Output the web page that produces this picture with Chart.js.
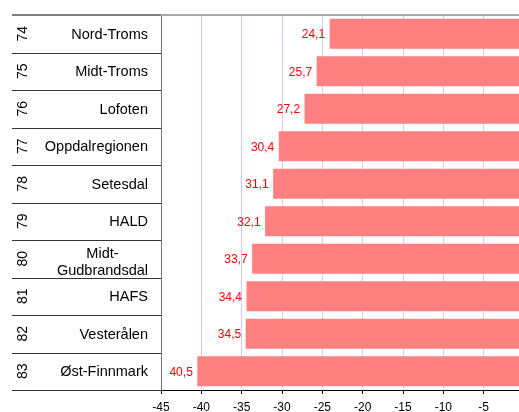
<!DOCTYPE html>
<html>
<head>
<meta charset="utf-8">
<script src="https://cdn.jsdelivr.net/npm/chart.js@4/dist/chart.umd.min.js"></script>
<style>
html,body{margin:0;padding:0;overflow:hidden;background:#fff;}
#wrap{width:519px;height:412px;overflow:hidden;position:relative;}
canvas{display:block;}
</style>
</head>
<body>
<div id="wrap"><canvas id="c" width="524" height="412"></canvas></div>
<script>
const ranks = [74, 75, 76, 77, 78, 79, 80, 81, 82, 83];
const regions = ['Nord-Troms', 'Midt-Troms', 'Lofoten', 'Oppdalregionen', 'Setesdal', 'HALD', ['Midt-', 'Gudbrandsdal'], 'HAFS', 'Vesterålen', 'Øst-Finnmark'];
const values = [-24.1, -25.7, -27.2, -30.4, -31.1, -32.1, -33.7, -34.4, -34.5, -40.5];
const xTicks = [-45, -40, -35, -30, -25, -20, -15, -10, -5];

const FONT = "'Liberation Sans', Arial, sans-serif";
Chart.defaults.font.family = FONT;

const tablePlugin = {
  id: 'tablePlugin',
  afterDraw(chart) {
    const ctx = chart.ctx;
    const area = chart.chartArea;
    const y = chart.scales.y;
    const n = regions.length;
    const rowH = (area.bottom - area.top) / n;
    ctx.save();
    // top lines
    ctx.strokeStyle = '#aaaaaa';
    ctx.lineWidth = 2;
    ctx.beginPath();
    ctx.moveTo(area.left, area.top);
    ctx.lineTo(chart.width, area.top);
    ctx.stroke();
    ctx.strokeStyle = '#555555';
    ctx.lineWidth = 1.5;
    ctx.beginPath();
    ctx.moveTo(12, area.top);
    ctx.lineTo(area.left, area.top);
    ctx.stroke();
    // row separators
    ctx.strokeStyle = '#333333';
    ctx.lineWidth = 1;
    for (let i = 0; i < n; i++) {
      const c = y.getPixelForValue(i);
      const b = Math.round(c + rowH / 2) + 0.5;
      ctx.beginPath();
      ctx.moveTo(12, b);
      ctx.lineTo(area.left, b);
      ctx.stroke();
    }
    // text
    ctx.fillStyle = '#000';
    for (let i = 0; i < n; i++) {
      const c = y.getPixelForValue(i);
      // rank rotated
      ctx.font = '14px ' + FONT;
      ctx.save();
      ctx.translate(23.5, c);
      ctx.rotate(-Math.PI / 2);
      ctx.textAlign = 'center';
      ctx.textBaseline = 'middle';
      ctx.fillText(String(ranks[i]), 0, 0);
      ctx.restore();
      const name = regions[i];
      ctx.font = '14.5px ' + FONT;
      ctx.textBaseline = 'middle';
      if (Array.isArray(name)) {
        let w = 0;
        name.forEach(s => { w = Math.max(w, ctx.measureText(s).width); });
        const cx = 148 - w / 2;
        const lh = 17;
        const y0 = c + 3.5 - lh * (name.length - 1) / 2;
        ctx.textAlign = 'center';
        name.forEach((s, k) => ctx.fillText(s, cx, y0 + k * lh));
      } else {
        ctx.textAlign = 'right';
        ctx.fillText(name, 148, c + 1);
      }
    }
    // value labels
    const meta = chart.getDatasetMeta(0);
    ctx.fillStyle = '#ff0000';
    ctx.font = '12px ' + FONT;
    ctx.textAlign = 'right';
    ctx.textBaseline = 'middle';
    meta.data.forEach((el, i) => {
      const txt = Math.abs(values[i]).toFixed(1).replace('.', ',');
      ctx.fillText(txt, el.x - 4.5, el.y + 1);
    });
    ctx.restore();
  }
};

new Chart(document.getElementById('c'), {
  type: 'bar',
  data: {
    labels: regions.map(r => Array.isArray(r) ? r.join(' ') : r),
    datasets: [{
      data: values,
      backgroundColor: '#ff8080',
      borderWidth: 0,
      barPercentage: 0.8,
      categoryPercentage: 1.0
    }]
  },
  options: {
    indexAxis: 'y',
    responsive: false,
    animation: false,
    devicePixelRatio: 1,
    layout: { padding: { left: 161, top: 15, right: 0, bottom: 0 } },
    plugins: { legend: { display: false }, tooltip: { enabled: false } },
    scales: {
      x: {
        min: -45,
        max: 0,
        afterBuildTicks(scale) {
          scale.ticks = xTicks.map(v => ({ value: v }));
        },
        afterFit(scale) { scale.height = 22; },
        ticks: {
          color: '#000',
          font: { size: 12, family: FONT },
          padding: 6,
          maxRotation: 0,
          autoSkip: false
        },
        grid: {
          color: (c) => (c.tick && c.tick.value === -45) ? '#777777' : '#ccccff',
          tickColor: '#000',
          tickLength: 4,
          lineWidth: 1
        },
        border: { display: true, color: '#000', width: 1 }
      },
      y: {
        display: false
      }
    }
  },
  plugins: [tablePlugin]
});
</script>
</body>
</html>
